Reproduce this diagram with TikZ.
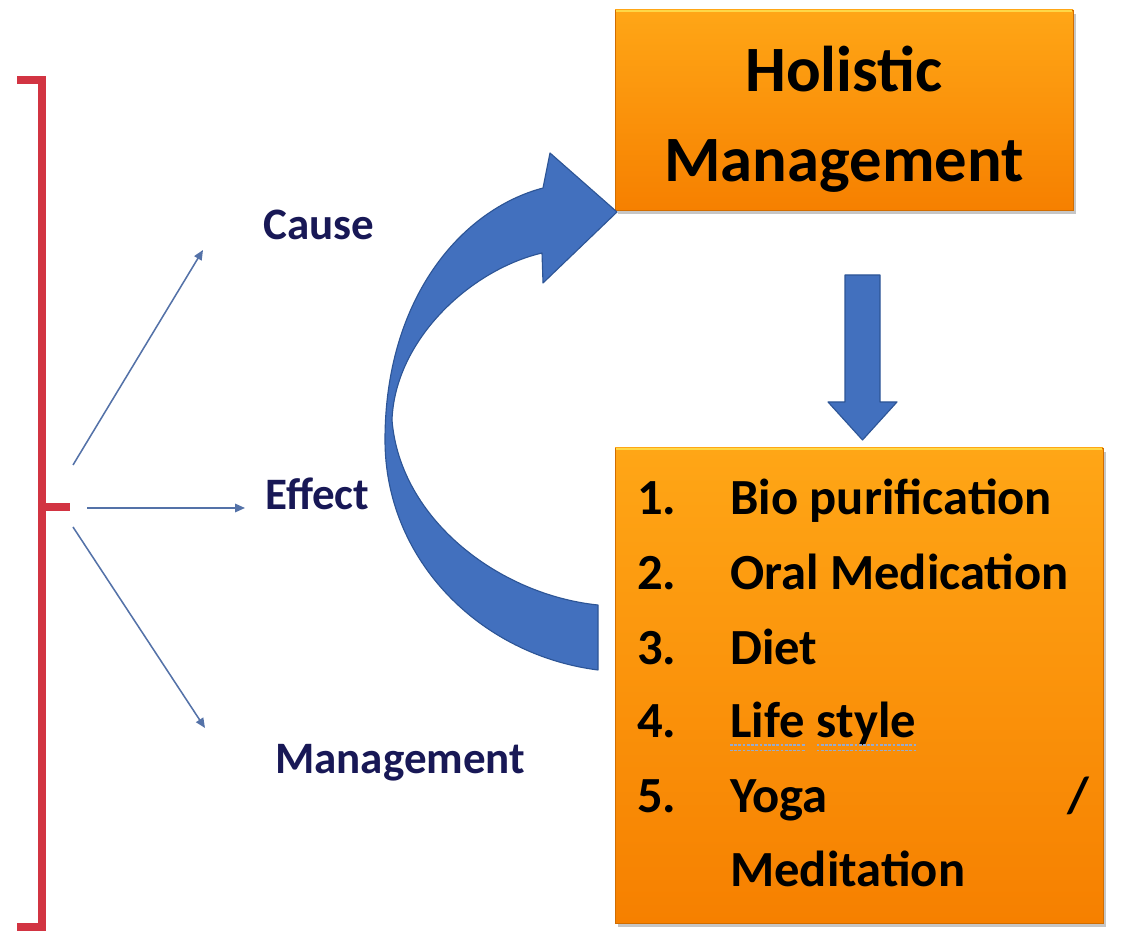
\documentclass[tikz,border=0pt]{standalone}
\usepackage{fontspec}
\setmainfont{Carlito}
\usetikzlibrary{arrows.meta,positioning,shadows,calc}

\definecolor{bracketRed}{RGB}{210,52,66}
\definecolor{linkBlue}{RGB}{84,114,168}
\definecolor{labelNavy}{RGB}{24,24,86}
\definecolor{arrowBlue}{RGB}{66,112,190}
\definecolor{arrowEdge}{RGB}{45,85,150}
\definecolor{boxTop}{RGB}{255,166,22}
\definecolor{boxMid}{RGB}{255,146,6}
\definecolor{boxBot}{RGB}{246,128,0}
\definecolor{boxGlow}{RGB}{255,215,70}
\definecolor{spellGrey}{RGB}{150,170,205}

\begin{document}
\begin{tikzpicture}

\tikzset{orangeBox/.style={rectangle, draw=boxBot!85!black, line width=0.6pt, inner sep=0pt,
   top color=boxTop, middle color=boxMid, bottom color=boxBot,
   drop shadow={shadow xshift=2pt, shadow yshift=-3pt, opacity=0.45}},
thinArrow/.style={linkBlue, line width=1.1pt, -{Triangle[length=7pt,width=6pt]}},
labelText/.style={labelNavy, font=\fontsize{32}{38}\selectfont\bfseries, inner sep=0pt, anchor=base west},
headText/.style={font=\fontsize{46}{55}\selectfont\bfseries, inner sep=0pt, anchor=base},
itemText/.style={font=\fontsize{36}{43}\selectfont\bfseries, inner sep=0pt, anchor=base west},
blockArrow/.style={fill=arrowBlue, draw=arrowEdge, line width=0.8pt, line join=round},
spellLine/.style={spellGrey, line width=1.2pt, dash pattern=on 2pt off 1pt}}

\useasboundingbox (0,0) rectangle (28.2,23.35);

%the red bracket on the left
\draw[bracketRed, line width=5.5pt] (0.425,21.35) -- (1.05,21.35) -- (1.05,0.175) -- (0.425,0.175);
\draw[bracketRed, line width=5.5pt] (1.05,10.675) -- (1.75,10.675);

\coordinate (hubUp) at (1.825,11.725);
\coordinate (hubMid) at (2.175,10.65);
\coordinate (hubDown) at (1.825,10.175);
\coordinate (causeEnd) at (5.075,17.1);
\coordinate (effectEnd) at (6.125,10.65);
\coordinate (mgmtEnd) at (5.125,5.15);

\node[labelText] (cause) at (6.575,17.35) {Cause};
\node[labelText] (effect) at (6.625,10.6) {Effect};
\node[labelText] (mgmt) at (6.875,4.0) {Management};

\draw[thinArrow] (hubUp) -- (causeEnd);
\draw[thinArrow] (hubMid) -- (effectEnd);
\draw[thinArrow] (hubDown) -- (mgmtEnd);

%top box
\node[orangeBox, minimum width=11.45cm, minimum height=5cm] (holistic) at (21.1,20.6) {};
\node[headText] (holisticA) at (21.1,21.05) {Holistic};
\node[headText] (holisticB) at (21.1,18.8) {Management};

\fill[blockArrow] (21.125,16.475) -- (22.0,16.475) -- (22.0,13.3) -- (22.425,13.3)
   -- (21.5625,12.35) -- (20.7,13.3) -- (21.125,13.3) -- cycle;

%bottom box with the list
\node[orangeBox, minimum width=12.2cm, minimum height=11.875cm] (remedies) at (21.475,6.2125) {};

\foreach \b in {holistic,remedies}
  \draw[boxGlow, line width=1.6pt] ([xshift=1pt,yshift=-1pt]\b.north west) -- ([xshift=-1pt,yshift=-1pt]\b.north east);

\foreach \n/\t/\y in {1/Bio purification/10.475, 2/Oral Medication/8.6, 3/Diet/6.725, 5/Yoga/3.025}
{
  \node[itemText] (num\n) at (15.925,\y) {\n.};
  \node[itemText] (item\n) at (18.25,\y) {\t};
}
\node[itemText] (num4) at (15.925,4.9) {4.};
\node[itemText] (life) at (18.25,4.9) {Life};
\node[itemText, base right=0.29cm of life] (style) {style};
\node[itemText, anchor=base east] (slash) at (27.25,3.025) {/};
\node[itemText] (item6) at (18.25,1.175) {Meditation};

\foreach \w in {life,style}
{
  \draw[spellLine] ([yshift=-5pt]\w.base west) -- ([yshift=-5pt]\w.base east);
  \draw[spellLine] ([yshift=-9pt]\w.base west) -- ([yshift=-9pt]\w.base east);
}

%now the big curved arrow back to the top box
\filldraw[blockArrow] (14.95,8.225) .. controls (12.5,8.475) and (10.0,10.35) .. (9.8,12.85)
   .. controls (9.875,14.85) and (11.75,16.6) .. (13.55,17.025)
   -- (13.575,16.275) -- (15.425,18.05) -- (13.75,19.525) -- (13.575,18.65)
   .. controls (11.5,18.1) and (9.625,15.85) .. (9.625,12.35)
   .. controls (9.625,9.35) and (12.0,6.975) .. (14.95,6.6) -- cycle;

\end{tikzpicture}
\end{document}
